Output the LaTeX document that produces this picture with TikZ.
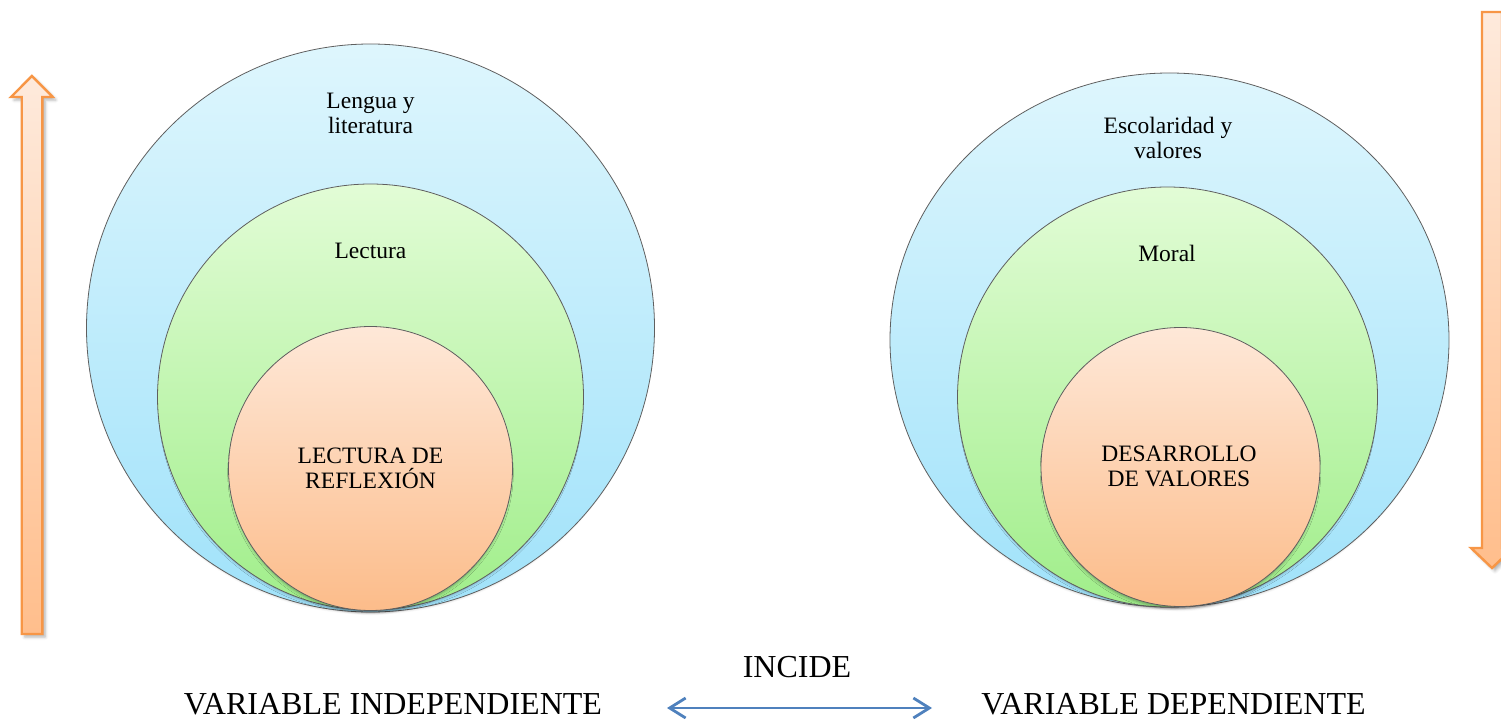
\documentclass[tikz,border=0pt]{standalone}
\usepackage{fontspec}
\setmainfont{Liberation Serif}
\usetikzlibrary{shapes.geometric,shadows.blur,arrows.meta}
\definecolor{bluetop}{RGB}{222,246,253}
\definecolor{bluebot}{RGB}{160,226,250}
\definecolor{greentop}{RGB}{226,252,214}
\definecolor{greenbot}{RGB}{160,238,138}
\definecolor{orangetop}{RGB}{254,232,216}
\definecolor{orangebot}{RGB}{252,188,138}
\definecolor{ringline}{RGB}{95,95,95}
\definecolor{arroworange}{RGB}{247,150,70}
\definecolor{arrowtop}{RGB}{254,234,220}
\definecolor{arrowbot}{RGB}{255,190,140}
\definecolor{arrowblue}{RGB}{79,129,189}
\tikzset{
  ring/.style={draw=ringline, line width=0.8pt, inner sep=0pt,
    blur shadow={shadow xshift=0pt, shadow yshift=-4pt, shadow scale=0.985, shadow blur radius=3pt, shadow opacity=35}},
  bluering/.style={ring, top color=bluetop, bottom color=bluebot},
  greenring/.style={ring, circle, top color=greentop, bottom color=greenbot},
  orangering/.style={ring, circle, top color=orangetop, bottom color=orangebot},
  lbl/.style={font=\fontsize{23.5}{25}\selectfont, align=center, inner sep=0pt},
  biglbl/.style={font=\fontsize{32}{36}\selectfont, inner sep=0pt, anchor=base},
  blockarrow/.style={draw=arroworange, line width=2.4pt, line join=miter,
    top color=arrowtop, bottom color=arrowbot,
    blur shadow={shadow xshift=3pt, shadow yshift=-3pt, shadow blur radius=3pt, shadow opacity=30}},
  linkarrow/.style={draw=arrowblue, line width=2.8pt,
    {Straight Barb[length=16pt,width=20pt]}-{Straight Barb[length=16pt,width=20pt]}}
}
\begin{document}
\begin{tikzpicture}[x=1pt,y=-1pt]
\useasboundingbox (0,0) rectangle (1501,719);
\clip (0,0) rectangle (1501,719);

% side block arrows
\path[blockarrow] (21.7,634) -- (21.7,97) -- (11,97) -- (31.9,76) -- (52.8,97) -- (42.3,97) -- (42.3,634) -- cycle;
\path[blockarrow] (1482,12) -- (1482,548) -- (1471,548) -- (1492,568) -- (1513,548) -- (1502,548) -- (1502,12) -- cycle;

% left rings
\node[bluering, circle, minimum size=568pt] (lout) at (370.5,328) {};
\node[greenring, minimum size=426pt] (lmid) at (370.5,397) {};
\node[orangering, minimum size=284pt] (lin) at (370.5,468.5) {};

% right rings
\node[bluering, ellipse, minimum width=559pt, minimum height=534pt] (rout) at (1169.5,340) {};
\node[greenring, minimum size=420pt] (rmid) at (1167.5,397) {};
\node[orangering, minimum size=279pt] (rin) at (1180.5,467) {};

% ring labels
\node[lbl] (t1) at (370.5,113.5) {Lengua y\\literatura};
\node[lbl] (t2) at (370.5,251) {Lectura};
\node[lbl] (t3) at (370.5,468.5) {LECTURA DE\\REFLEXIÓN};
\node[lbl] (t4) at (1168,137.5) {Escolaridad y\\valores};
\node[lbl] (t5) at (1167,253) {Moral};
\node[lbl] (t6) at (1179,466.5) {DESARROLLO\\DE VALORES};

% bottom labels
\node[biglbl] (vi) at (393,714) {VARIABLE INDEPENDIENTE};
\node[biglbl] (vd) at (1173.5,714) {VARIABLE DEPENDIENTE};
\node[biglbl] (inc) at (797,677) {INCIDE};

\coordinate (aL) at (667,708);
\coordinate (aR) at (932,708);
\draw[linkarrow] (aL) -- (aR);
\end{tikzpicture}
\end{document}
